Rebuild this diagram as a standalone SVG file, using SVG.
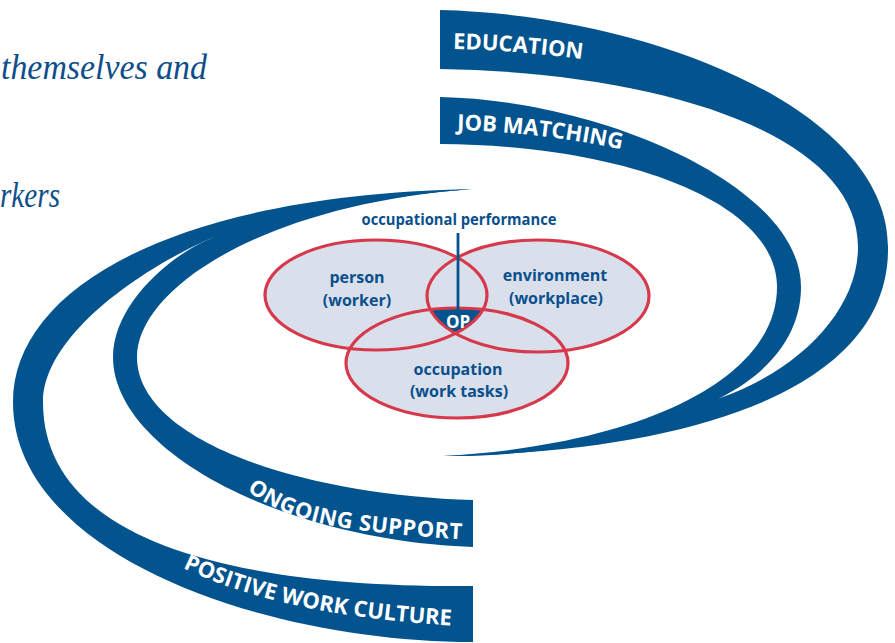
<svg xmlns="http://www.w3.org/2000/svg" width="895" height="643" viewBox="0 0 895 643">
<style>
.band{fill:#03548e;}
.blab{fill:#ffffff;font-family:"Open Sans","Liberation Sans",sans-serif;font-weight:700;font-size:22px;}
.venn{fill:#d9e0ec;}
.vstroke{fill:none;stroke:#d6394b;stroke-width:3.2;}
.vlab{fill:#0a4f8c;font-family:"Open Sans","Liberation Sans",sans-serif;font-weight:700;font-size:16px;text-anchor:middle;}
.intro{fill:#0e4e8a;font-family:"Liberation Serif",serif;font-style:italic;font-size:35px;}
</style>
<defs>
<clipPath id="cp-person"><ellipse cx="376" cy="295" rx="111" ry="55"/></clipPath>
<clipPath id="cp-env"><ellipse cx="538" cy="296" rx="111" ry="56"/></clipPath>
<path id="tp-edu" d="M453,49 Q520,50 595,61"/>
<path id="tp-jm" d="M457,130 Q540,132 630,151"/>
<path id="tp-os" d="M247,490 C285,520 330,532 475,540"/>
<path id="tp-pwc" d="M183,568 C240,595 320,618 460,626"/>
</defs>

<g id="intro-text">
<text class="intro" x="1" y="79" textLength="206" lengthAdjust="spacingAndGlyphs">themselves and</text>
<text class="intro" x="0" y="207" textLength="60" lengthAdjust="spacingAndGlyphs">rkers</text>
</g>

<g id="education">
<path class="band" d="M440,10 C650,15 888,110 888,247 C890,390 690,452 443,456 C560,452 680,420 720,398 C800,370 858,310 858,247 C858,130 650,72 440,69 Z"/>
<text class="blab"><textPath href="#tp-edu">EDUCATION</textPath></text>
</g>

<g id="job-matching">
<path class="band" d="M440,97 C600,100 801,185 801,287 C801,330 775,370 720,398 C690,425 560,458 443,456 C640,445 777,380 777,287 C777,200 620,145 440,144 Z"/>
<text class="blab"><textPath href="#tp-jm">JOB MATCHING</textPath></text>
</g>

<g id="positive-work-culture">
<path class="band" d="M473,586 C230,588 43,540 43,402 C43,340 130,275 207,240 C280,215 380,196 472,189 C170,195 13,290 13,402 C13,555 265,642 473,642 Z"/>
<text class="blab"><textPath href="#tp-pwc">POSITIVE WORK CULTURE</textPath></text>
</g>

<g id="ongoing-support">
<path class="band" d="M473,500 C300,495 137,440 137,357 C137,290 260,205 472,189 C380,194 280,212 207,240 C160,262 113,310 113,357 C113,450 280,540 473,547 Z"/>
<text class="blab" letter-spacing="0.5"><textPath href="#tp-os">ONGOING SUPPORT</textPath></text>
</g>

<g id="venn-fills">
<ellipse class="venn" cx="376" cy="295" rx="111" ry="55"/>
<ellipse class="venn" cx="538" cy="296" rx="111" ry="56"/>
<ellipse class="venn" cx="457" cy="363" rx="111" ry="55"/>
</g>

<g id="op">
<g clip-path="url(#cp-env)"><ellipse cx="457" cy="363" rx="111" ry="55" fill="#03548e" clip-path="url(#cp-person)"/></g>
</g>

<g id="person">
<ellipse class="vstroke" cx="376" cy="295" rx="111" ry="55"/>
<text class="vlab" x="357" y="283">person</text>
<text class="vlab" x="357" y="306">(worker)</text>
</g>
<g id="environment">
<ellipse class="vstroke" cx="538" cy="296" rx="111" ry="56"/>
<text class="vlab" x="555" y="281">environment</text>
<text class="vlab" x="556" y="304">(workplace)</text>
</g>
<g id="occupation">
<ellipse class="vstroke" cx="457" cy="363" rx="111" ry="55"/>
<text class="vlab" x="458" y="375">occupation</text>
<text class="vlab" x="459" y="397">(work tasks)</text>
</g>

<g id="connectors">
<line x1="458" y1="233" x2="458" y2="311" stroke="#03548e" stroke-width="2.8"/>
</g>

<g id="op-label">
<text x="458" y="328" fill="#ffffff" font-family="'Open Sans','Liberation Sans',sans-serif" font-weight="700" font-size="17" text-anchor="middle">OP</text>
</g>

<g id="occupational-performance">
<text class="vlab" x="459" y="225" font-size="14" textLength="195" lengthAdjust="spacingAndGlyphs">occupational performance</text>
</g>
</svg>
